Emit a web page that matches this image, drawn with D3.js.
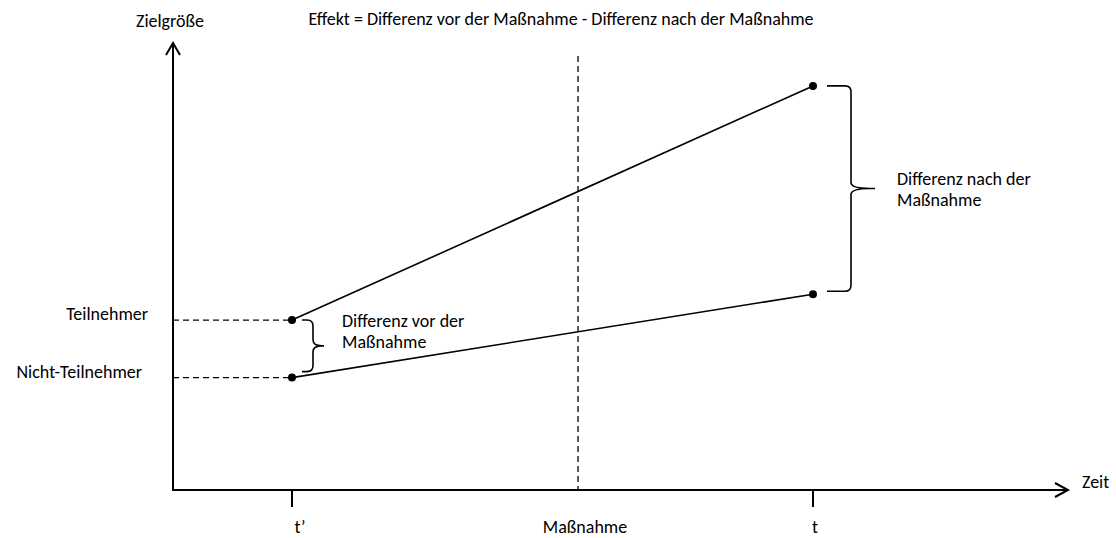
<!DOCTYPE html>
<html>
<head>
<meta charset="utf-8">
<script src="https://cdn.jsdelivr.net/npm/d3@7"></script>
<style>
  body { margin: 0; background: #fff; }
  svg text { font-family: Carlito, "Open Sans", sans-serif; font-size: 18px; fill: #000; }
</style>
</head>
<body>
<svg id="chart" width="1116" height="538"></svg>
<script>
// --- data ---
const timeLabels = ["t\u2019", "Maßnahme", "t"];
const timeValues = [0, 0.549, 1];
const groups = ["Teilnehmer", "Nicht-Teilnehmer"];
const valuesBefore = [38.1, 25.2];   // at t'
const valuesAfter = [90.6, 43.9];    // at t
const title = "Effekt = Differenz vor der Maßnahme - Differenz nach der Maßnahme";
const braceLabels = [["Differenz vor der", "Maßnahme"], ["Differenz nach der", "Maßnahme"]];

const svg = d3.select('#chart');
const x0 = 173, yBase = 490;

const x = d3.scaleLinear().domain([0, 1]).range([292, 813]);
const y = d3.scaleLinear().domain([0, 100]).range([yBase, 44]);

// axes with arrow heads
const g = svg.append('g').attr('stroke', '#000').attr('fill', 'none').attr('stroke-width', 2);
g.append('line').attr('x1', x0).attr('y1', yBase + 1).attr('x2', x0).attr('y2', 43);
g.append('path').attr('d', `M${x0 - 7},55 L${x0},43 L${x0 + 7},55`);
g.append('line').attr('x1', x0 - 1).attr('y1', yBase).attr('x2', 1068).attr('y2', yBase);
g.append('path').attr('d', `M1055,483 L1068,${yBase} L1055,497`);

// ticks at t' and t
[0, 2].forEach(i => {
  g.append('line')
    .attr('x1', x(timeValues[i])).attr('x2', x(timeValues[i]))
    .attr('y1', yBase).attr('y2', yBase + 17);
});

// intervention dashed line
svg.append('line')
  .attr('x1', x(timeValues[1])).attr('x2', x(timeValues[1]))
  .attr('y1', 56).attr('y2', yBase)
  .attr('stroke', '#000').attr('stroke-width', 1.3).attr('stroke-dasharray', '6,4');

// dashed guides from y-axis to start points
valuesBefore.forEach(v => {
  svg.append('line')
    .attr('x1', x0).attr('x2', x(0))
    .attr('y1', y(v)).attr('y2', y(v))
    .attr('stroke', '#000').attr('stroke-width', 1.3).attr('stroke-dasharray', '6,4');
});

// group lines and dots
const labelRight = [148, 142];
groups.forEach((name, i) => {
  const pts = [[x(0), y(valuesBefore[i])], [x(1), y(valuesAfter[i])]];
  svg.append('path').attr('d', d3.line()(pts))
    .attr('stroke', '#000').attr('stroke-width', 1.6).attr('fill', 'none');
  svg.selectAll(null).data(pts).join('circle')
    .attr('cx', d => d[0]).attr('cy', d => d[1]).attr('r', 4).attr('fill', '#000');
  svg.append('text')
    .attr('x', labelRight[i]).attr('y', y(valuesBefore[i]))
    .attr('text-anchor', 'end').text(name);
});

// curly brace path: starts at (xs, ya), goes down to (xs, yb), tip at xs + w
function brace(xs, ya, yb, w) {
  const r = 6, xv = xs + w * 0.5, ym = (ya + yb) / 2, xt = xs + w;
  return `M${xs},${ya} L${xv - r},${ya} Q${xv},${ya} ${xv},${ya + r}` +
    ` L${xv},${ym - r} Q${xv},${ym} ${xt - w * 0.1},${ym} L${xt},${ym}` +
    ` M${xt - w * 0.1},${ym} Q${xv},${ym} ${xv},${ym + r}` +
    ` L${xv},${yb - r} Q${xv},${yb} ${xv - r},${yb} L${xs},${yb}`;
}

svg.append('path')
  .attr('d', brace(x(0) + 10, y(valuesBefore[0]), y(valuesBefore[1]) - 6, 22))
  .attr('stroke', '#000').attr('stroke-width', 1.6).attr('fill', 'none');
svg.append('path')
  .attr('d', brace(x(1) + 14, y(valuesAfter[0]), y(valuesAfter[1]) - 3, 48))
  .attr('stroke', '#000').attr('stroke-width', 1.6).attr('fill', 'none');

const braceText = [
  { x: 342, y: 327 },
  { x: 897, y: 185 }
];
braceLabels.forEach((lines, i) => {
  const t = svg.append('text').attr('x', braceText[i].x).attr('y', braceText[i].y);
  lines.forEach((l, j) => t.append('tspan').attr('x', braceText[i].x).attr('dy', j ? 21 : 0).text(l));
});

// axis labels and title
svg.append('text').attr('x', 170).attr('y', 27).attr('text-anchor', 'middle').text('Zielgröße');
svg.append('text').attr('x', 561).attr('y', 25).attr('text-anchor', 'middle').text(title);
svg.append('text').attr('x', 1082).attr('y', 488).text('Zeit');
const labelDx = [8, 7, 2], labelY = [533, 533, 533];
timeLabels.forEach((l, i) => {
  svg.append('text').attr('x', x(timeValues[i]) + labelDx[i]).attr('y', labelY[i])
    .attr('text-anchor', 'middle').text(l);
});
</script>
</body>
</html>
